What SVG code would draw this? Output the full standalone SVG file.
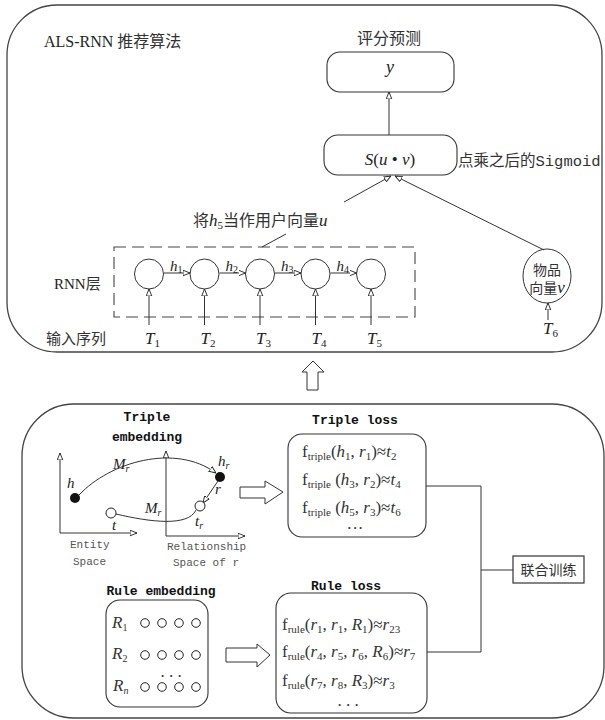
<svg xmlns="http://www.w3.org/2000/svg" width="605" height="720" viewBox="0 0 605 720">
<style>
.panel{fill:#fff;stroke:#444;stroke-width:1.3}
.box{fill:#fff;stroke:#333;stroke-width:1.1}
.ln{fill:none;stroke:#333;stroke-width:1}
.cn{font-family:"Noto Sans CJK SC","Liberation Serif",serif;fill:#333}
.sr{font-family:"Liberation Serif","Noto Sans CJK SC",serif;fill:#222}
.i{font-style:italic}
.mb{font-family:"Liberation Mono",monospace;font-weight:bold;font-size:13px;fill:#111}
.mg{font-family:"Liberation Mono",monospace;font-size:11px;fill:#555}
.fm{font-family:"Liberation Serif",serif;font-size:17px;fill:#333}
</style>
<defs>
<marker id="ah" viewBox="0 0 10 10" refX="10" refY="5" markerWidth="7" markerHeight="7" markerUnits="userSpaceOnUse" orient="auto">
<path d="M0,1 L10,5 L0,9 z" fill="#fff" stroke="#222" stroke-width="1.3"/>
</marker>
</defs>

<g id="top-panel">
<rect class="panel" x="7" y="5" width="595" height="347" rx="50" ry="50"/>
<text class="sr" x="44" y="47" font-size="16">ALS-RNN <tspan class="cn">推荐算法</tspan></text>
</g>

<g id="node-y">
<text class="cn" x="389" y="44" font-size="16" text-anchor="middle">评分预测</text>
<rect class="box" x="327" y="52" width="127" height="40" rx="13"/>
<text class="sr i" x="390" y="73" font-size="18" text-anchor="middle">y</text>
</g>

<g id="node-s">
<rect class="box" x="324" y="135" width="133" height="40" rx="14"/>
<text class="sr" x="390" y="165" font-size="17" text-anchor="middle"><tspan class="i">S</tspan>(<tspan class="i">u</tspan> • <tspan class="i">v</tspan>)</text>
<text class="cn" x="458" y="166" font-size="15.5">点乘之后的<tspan font-family="Liberation Mono, monospace">Sigmoid</tspan></text>
</g>

<g id="rnn-layer">
<rect x="114" y="247" width="301" height="70" fill="none" stroke="#444" stroke-width="1.1" stroke-dasharray="12,6"/>
<text class="sr" x="54" y="289" font-size="15">RNN<tspan class="cn">层</tspan></text>
<ellipse class="ln" cx="149" cy="274" rx="14.5" ry="15"/>
<ellipse class="ln" cx="204.5" cy="274" rx="14.5" ry="15"/>
<ellipse class="ln" cx="260" cy="274" rx="14.5" ry="15"/>
<ellipse class="ln" cx="315.5" cy="274" rx="14.5" ry="15"/>
<ellipse class="ln" cx="371" cy="274" rx="14.5" ry="15"/>
<text class="sr i" x="170" y="271" font-size="15">h<tspan font-size="10" font-style="normal" dy="2">1</tspan></text>
<text class="sr i" x="225.5" y="271" font-size="15">h<tspan font-size="10" font-style="normal" dy="2">2</tspan></text>
<text class="sr i" x="281" y="271" font-size="15">h<tspan font-size="10" font-style="normal" dy="2">3</tspan></text>
<text class="sr i" x="336.5" y="271" font-size="15">h<tspan font-size="10" font-style="normal" dy="2">4</tspan></text>
</g>

<g id="inputs">
<text class="cn" x="46" y="344" font-size="15">输入序列</text>
<text class="sr i" x="145" y="344" font-size="17">T<tspan font-size="11" font-style="normal" dy="3">1</tspan></text>
<text class="sr i" x="200.5" y="344" font-size="17">T<tspan font-size="11" font-style="normal" dy="3">2</tspan></text>
<text class="sr i" x="256" y="344" font-size="17">T<tspan font-size="11" font-style="normal" dy="3">3</tspan></text>
<text class="sr i" x="311.5" y="344" font-size="17">T<tspan font-size="11" font-style="normal" dy="3">4</tspan></text>
<text class="sr i" x="367" y="344" font-size="17">T<tspan font-size="11" font-style="normal" dy="3">5</tspan></text>
</g>

<g id="node-item">
<ellipse class="ln" cx="547" cy="276" rx="24" ry="27"/>
<text class="cn" x="547" y="275" font-size="14" text-anchor="middle">物品</text>
<text class="cn" x="547" y="293" font-size="14" text-anchor="middle">向量<tspan class="sr i" font-size="17">v</tspan></text>
<text class="sr i" x="543" y="334" font-size="17">T<tspan font-size="11" font-style="normal" dy="3">6</tspan></text>
</g>

<g id="label-u">
<text class="cn" x="193" y="226" font-size="16">将<tspan class="sr i" font-size="17">h</tspan><tspan class="sr" font-size="11" dy="3">5</tspan><tspan dy="-3">当作用户向量</tspan><tspan class="sr i" font-size="17">u</tspan></text>
</g>

<g id="bottom-panel">
<rect class="panel" x="22" y="404" width="582" height="314" rx="52" ry="52"/>
</g>

<g id="triple-embedding">
<text class="mb" x="147" y="421" text-anchor="middle">Triple</text>
<text class="mb" x="147" y="441" text-anchor="middle">embedding</text>
<line class="ln" x1="60" y1="533" x2="60" y2="453" marker-end="url(#ah)"/>
<line class="ln" x1="60" y1="533" x2="137" y2="533" marker-end="url(#ah)"/>
<line class="ln" x1="166" y1="536" x2="166" y2="451" marker-end="url(#ah)"/>
<line class="ln" x1="166" y1="536" x2="245" y2="536" marker-end="url(#ah)"/>
<text class="mg" x="70" y="548">Entity</text>
<text class="mg" x="73" y="565">Space</text>
<text class="mg" x="167" y="550">Relationship</text>
<text class="mg" x="173" y="566">Space of r</text>
<path class="ln" d="M79,495 C110,462 175,443 216,473" marker-end="url(#ah)"/>
<path class="ln" d="M116,514 C150,522 188,527 196,510"/>
<line class="ln" x1="218" y1="481" x2="203" y2="503" marker-end="url(#ah)"/>
<circle cx="75" cy="498" r="5" fill="#111"/>
<circle cx="220" cy="477" r="5" fill="#111"/>
<circle cx="111" cy="513" r="5" fill="#fff" stroke="#222" stroke-width="1"/>
<circle cx="200" cy="506" r="5" fill="#fff" stroke="#222" stroke-width="1"/>
<text class="sr i" x="67" y="488" font-size="15">h</text>
<text class="sr i" x="113" y="469" font-size="15">M<tspan font-size="10" dy="3">r</tspan></text>
<text class="sr i" x="145" y="513" font-size="15">M<tspan font-size="10" dy="3">r</tspan></text>
<text class="sr i" x="218" y="466" font-size="15">h<tspan font-size="10" dy="3">r</tspan></text>
<text class="sr i" x="215" y="494" font-size="15">r</text>
<text class="sr i" x="112" y="530" font-size="15">t</text>
<text class="sr i" x="195" y="526" font-size="15">t<tspan font-size="10" dy="3">r</tspan></text>
</g>

<g id="triple-loss">
<text class="mb" x="355" y="424" text-anchor="middle">Triple loss</text>
<rect class="box" x="288" y="434" width="138" height="103" rx="14"/>
<text class="fm" x="302" y="457">f<tspan font-size="11" dy="3">triple</tspan><tspan dy="-3">(</tspan><tspan class="i">h</tspan><tspan font-size="11" dy="3">1</tspan><tspan dy="-3">, </tspan><tspan class="i">r</tspan><tspan font-size="11" dy="3">1</tspan><tspan dy="-3">)≈</tspan><tspan class="i">t</tspan><tspan font-size="11" dy="3">2</tspan></text>
<text class="fm" x="302" y="485">f<tspan font-size="11" dy="3">triple</tspan><tspan dy="-3"> (</tspan><tspan class="i">h</tspan><tspan font-size="11" dy="3">3</tspan><tspan dy="-3">, </tspan><tspan class="i">r</tspan><tspan font-size="11" dy="3">2</tspan><tspan dy="-3">)≈</tspan><tspan class="i">t</tspan><tspan font-size="11" dy="3">4</tspan></text>
<text class="fm" x="302" y="513">f<tspan font-size="11" dy="3">triple</tspan><tspan dy="-3"> (</tspan><tspan class="i">h</tspan><tspan font-size="11" dy="3">5</tspan><tspan dy="-3">, </tspan><tspan class="i">r</tspan><tspan font-size="11" dy="3">3</tspan><tspan dy="-3">)≈</tspan><tspan class="i">t</tspan><tspan font-size="11" dy="3">6</tspan></text>
<text class="fm" x="355" y="534" text-anchor="middle" font-size="10">···</text>
</g>

<g id="rule-embedding">
<text class="mb" x="161" y="595" text-anchor="middle">Rule embedding</text>
<rect class="box" x="106" y="600" width="102" height="107" rx="14"/>
<text class="fm i" x="112" y="628" font-size="16">R<tspan font-size="10" font-style="normal" dy="3">1</tspan></text>
<text class="fm i" x="112" y="659" font-size="16">R<tspan font-size="10" font-style="normal" dy="3">2</tspan></text>
<text class="fm i" x="113" y="691" font-size="16">R<tspan font-size="10" dy="3">n</tspan></text>
<g fill="#fff" stroke="#222" stroke-width="1">
<circle cx="145" cy="623" r="4.3"/><circle cx="162" cy="623" r="4.3"/><circle cx="179" cy="623" r="4.3"/><circle cx="196" cy="623" r="4.3"/>
<circle cx="145" cy="655" r="4.3"/><circle cx="162" cy="655" r="4.3"/><circle cx="179" cy="655" r="4.3"/><circle cx="196" cy="655" r="4.3"/>
<circle cx="145" cy="687" r="4.3"/><circle cx="162" cy="687" r="4.3"/><circle cx="179" cy="687" r="4.3"/><circle cx="196" cy="687" r="4.3"/>
</g>
<text class="fm" x="171" y="677" text-anchor="middle" font-size="12">. . .</text>
</g>

<g id="rule-loss">
<text class="mb" x="346" y="590" text-anchor="middle">Rule loss</text>
<rect class="box" x="276" y="593" width="151" height="120" rx="15"/>
<text class="fm" x="282" y="630" font-size="16.5">f<tspan font-size="11" dy="3">rule</tspan><tspan dy="-3">(</tspan><tspan class="i">r</tspan><tspan font-size="11" dy="3">1</tspan><tspan dy="-3">, </tspan><tspan class="i">r</tspan><tspan font-size="11" dy="3">1</tspan><tspan dy="-3">, </tspan><tspan class="i">R</tspan><tspan font-size="11" dy="3">1</tspan><tspan dy="-3">)≈</tspan><tspan class="i">r</tspan><tspan font-size="11" dy="3">23</tspan></text>
<text class="fm" x="282" y="657" font-size="16.5">f<tspan font-size="11" dy="3">rule</tspan><tspan dy="-3">(</tspan><tspan class="i">r</tspan><tspan font-size="11" dy="3">4</tspan><tspan dy="-3">, </tspan><tspan class="i">r</tspan><tspan font-size="11" dy="3">5</tspan><tspan dy="-3">, </tspan><tspan class="i">r</tspan><tspan font-size="11" dy="3">6</tspan><tspan dy="-3">, </tspan><tspan class="i">R</tspan><tspan font-size="11" dy="3">6</tspan><tspan dy="-3">)≈</tspan><tspan class="i">r</tspan><tspan font-size="11" dy="3">7</tspan></text>
<text class="fm" x="282" y="686" font-size="16.5">f<tspan font-size="11" dy="3">rule</tspan><tspan dy="-3">(</tspan><tspan class="i">r</tspan><tspan font-size="11" dy="3">7</tspan><tspan dy="-3">, </tspan><tspan class="i">r</tspan><tspan font-size="11" dy="3">8</tspan><tspan dy="-3">, </tspan><tspan class="i">R</tspan><tspan font-size="11" dy="3">3</tspan><tspan dy="-3">)≈</tspan><tspan class="i">r</tspan><tspan font-size="11" dy="3">3</tspan></text>
<text class="fm" x="348" y="706" text-anchor="middle" font-size="11">. . .</text>
</g>

<g id="joint-training">
<rect x="513" y="556" width="71" height="27" fill="#fff" stroke="#333" stroke-width="1.2"/>
<text class="cn" x="548.5" y="575" font-size="14" text-anchor="middle" fill="#444">联合训练</text>
</g>

<g id="connectors">
<line class="ln" x1="389" y1="135" x2="389" y2="92" marker-end="url(#ah)"/>
<line class="ln" x1="344" y1="202" x2="391" y2="176" marker-end="url(#ah)"/>
<line class="ln" x1="262" y1="247" x2="286" y2="234"/>
<line class="ln" x1="544" y1="250" x2="395" y2="176" marker-end="url(#ah)"/>
<line class="ln" x1="164" y1="273" x2="190" y2="273" marker-end="url(#ah)"/>
<line class="ln" x1="219.5" y1="273" x2="245.5" y2="273" marker-end="url(#ah)"/>
<line class="ln" x1="275" y1="273" x2="301" y2="273" marker-end="url(#ah)"/>
<line class="ln" x1="330.5" y1="273" x2="356.5" y2="273" marker-end="url(#ah)"/>
<line class="ln" x1="149" y1="325" x2="149" y2="289" marker-end="url(#ah)"/>
<line class="ln" x1="204.5" y1="325" x2="204.5" y2="289" marker-end="url(#ah)"/>
<line class="ln" x1="260" y1="325" x2="260" y2="289" marker-end="url(#ah)"/>
<line class="ln" x1="315.5" y1="325" x2="315.5" y2="289" marker-end="url(#ah)"/>
<line class="ln" x1="371" y1="325" x2="371" y2="289" marker-end="url(#ah)"/>
<line class="ln" x1="548" y1="320" x2="548" y2="303" marker-end="url(#ah)"/>
<path d="M307,390 L307,372 L302,372 L313,361 L324,372 L318,372 L318,390 Z" fill="#fff" stroke="#333" stroke-width="1"/>
<path d="M240,487 L265,487 L265,481 L283,492 L265,504 L265,498 L240,498 Z" fill="#fff" stroke="#333" stroke-width="1"/>
<path d="M226,648 L257,648 L257,644 L270,655 L257,667 L257,662 L226,662 Z" fill="#fff" stroke="#333" stroke-width="1"/>
<polyline class="ln" points="426,486 481,486 481,652 427,652"/>
<line class="ln" x1="481" y1="570" x2="513" y2="570"/>
</g>
</svg>
